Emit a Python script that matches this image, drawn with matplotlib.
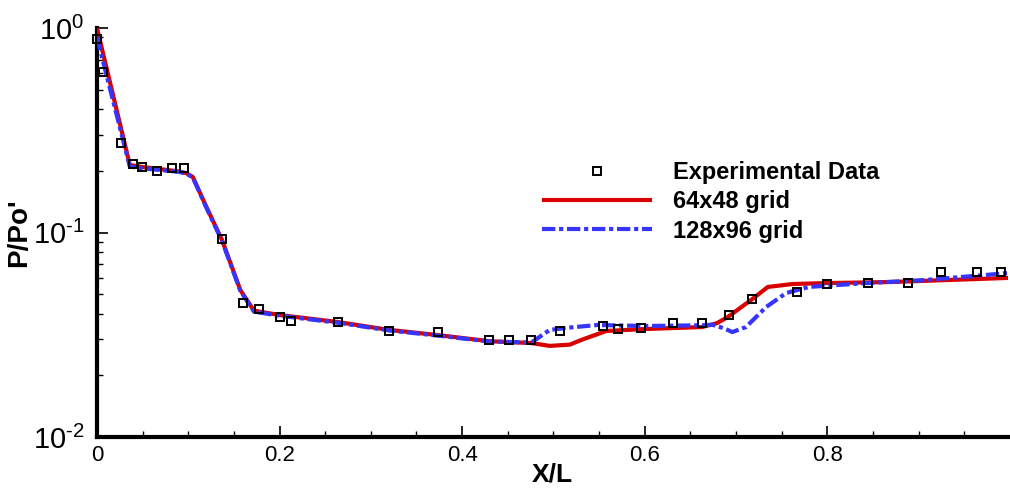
import matplotlib
matplotlib.use("Agg")
import matplotlib.pyplot as plt
from matplotlib.ticker import MultipleLocator, FixedLocator, FixedFormatter, LogLocator, NullFormatter

plt.rcParams['font.family'] = ['Liberation Sans', 'DejaVu Sans']
plt.rcParams['mathtext.fontset'] = 'custom'
plt.rcParams['mathtext.rm'] = 'Liberation Sans'
plt.rcParams['mathtext.it'] = 'Liberation Sans'
plt.rcParams['mathtext.bf'] = 'Liberation Sans:bold'

# Experimental wall pressure
exp_x = [0.0, 0.007, 0.026, 0.040, 0.049, 0.066, 0.082, 0.095, 0.137, 0.160,
         0.177, 0.201, 0.213, 0.264, 0.320, 0.374, 0.429, 0.451, 0.476, 0.507,
         0.554, 0.571, 0.596, 0.631, 0.663, 0.692, 0.718, 0.767, 0.800, 0.845,
         0.889, 0.925, 0.964, 0.990]
exp_p = [0.883, 0.61, 0.274, 0.216, 0.209, 0.200, 0.207, 0.207, 0.093, 0.0452,
         0.0423, 0.0386, 0.0369, 0.0365, 0.0330, 0.0326, 0.0298, 0.0298, 0.0298, 0.0330,
         0.0349, 0.0337, 0.0341, 0.0361, 0.0361, 0.0395, 0.0473, 0.0512, 0.0560, 0.0566,
         0.0566, 0.0641, 0.0641, 0.0641]

# 64x48 grid solution
coarse_x = [0.0, 0.036, 0.050, 0.070, 0.090, 0.098, 0.105, 0.120, 0.137, 0.157,
            0.172, 0.200, 0.264, 0.320, 0.374, 0.430, 0.476, 0.496, 0.518, 0.532,
            0.548, 0.558, 0.598, 0.663, 0.679, 0.691, 0.718, 0.735, 0.762, 0.799,
            0.871, 0.999]
coarse_p = [1.0, 0.214, 0.209, 0.204, 0.199, 0.195, 0.187, 0.133, 0.092, 0.0524,
            0.0415, 0.0395, 0.0365, 0.0334, 0.0315, 0.0294, 0.0288, 0.0279, 0.0283, 0.0300,
            0.0318, 0.0330, 0.0337, 0.0345, 0.0360, 0.0386, 0.0473, 0.0542, 0.0560, 0.0566,
            0.0573, 0.0600]

# 128x96 grid solution
fine_x = [0.0, 0.036, 0.050, 0.070, 0.090, 0.098, 0.105, 0.120, 0.137, 0.157,
          0.172, 0.200, 0.264, 0.320, 0.374, 0.430, 0.476, 0.496, 0.518, 0.548,
          0.600, 0.663, 0.674, 0.687, 0.696, 0.711, 0.733, 0.755, 0.780, 0.843,
          0.908, 0.999]
fine_p = [0.90, 0.210, 0.206, 0.202, 0.198, 0.194, 0.186, 0.132, 0.091, 0.0520,
          0.0410, 0.0392, 0.0362, 0.0332, 0.0313, 0.0293, 0.0290, 0.0334, 0.0343, 0.0353,
          0.0349, 0.0352, 0.0354, 0.0340, 0.0326, 0.0345, 0.0432, 0.0506, 0.0542, 0.0566,
          0.0586, 0.0634]

x_ticks = [0, 0.2, 0.4, 0.6, 0.8]
x_tick_labels = ['0', '0.2', '0.4', '0.6', '0.8']
y_ticks = [1e-2, 1e-1, 1e0]
y_tick_labels = [r'$10^{\text{-}2}$', r'$10^{\text{-}1}$', r'$10^{0}$']

fig = plt.figure(figsize=(10.10, 4.88), dpi=100)
ax = fig.add_axes([0.096, 0.1045, 0.902, 0.838])

ax.plot(coarse_x, coarse_p, color='#d90000', lw=3.0, solid_capstyle='butt',
        label='64x48 grid', zorder=3)
ax.plot(fine_x, fine_p, color='#3535ff', lw=3.0, linestyle=(0, (3.2, 0.9, 1.0, 0.9)),
        label='128x96 grid', zorder=4)
ax.plot(exp_x, exp_p, linestyle='none', marker='s', markersize=6.3,
        markerfacecolor='none', markeredgecolor='black', markeredgewidth=1.4,
        label='Experimental Data', zorder=5, clip_on=False)

ax.set_yscale('log')
ax.set_xlim(0, 0.998)
ax.set_ylim(1e-2, 1e0)

ax.xaxis.set_major_locator(FixedLocator(x_ticks))
ax.xaxis.set_major_formatter(FixedFormatter(x_tick_labels))
ax.xaxis.set_minor_locator(MultipleLocator(0.05))
ax.yaxis.set_major_locator(FixedLocator(y_ticks))
ax.yaxis.set_major_formatter(FixedFormatter(y_tick_labels))
ax.yaxis.set_minor_locator(LogLocator(base=10, subs=range(2, 10)))
ax.yaxis.set_minor_formatter(NullFormatter())

for side in ('top', 'right'):
    ax.spines[side].set_visible(False)
for side in ('left', 'bottom'):
    ax.spines[side].set_linewidth(3.0)

ax.tick_params(axis='both', which='major', direction='in', length=8, width=1.2)
ax.tick_params(axis='both', which='minor', direction='in', length=4.5, width=1.0)
ax.tick_params(axis='x', which='major', labelsize=16, pad=6)
ax.tick_params(axis='y', which='major', labelsize=21, pad=9)

ax.set_xlabel('X/L', fontsize=19, fontweight='bold', labelpad=-3)
ax.set_ylabel("P/Po'", fontsize=20, fontweight='bold')
ax.yaxis.set_label_coords(-0.071, 0.5)

handles, labels = ax.get_legend_handles_labels()
order = [2, 0, 1]
ax.legend([handles[i] for i in order], [labels[i] for i in order],
          loc='upper left', bbox_to_anchor=(0.475, 0.704), frameon=False,
          prop={'family': 'Liberation Sans', 'weight': 'bold', 'size': 17},
          handlelength=4.7, handletextpad=0.85, labelspacing=0.27, borderpad=0)

fig.savefig('out.png', dpi=100)
